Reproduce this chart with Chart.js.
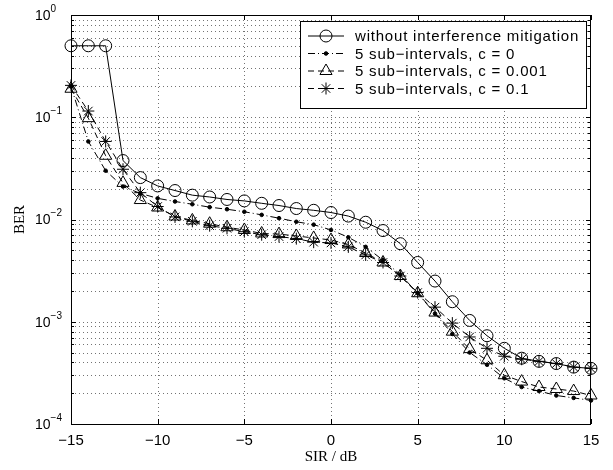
<!DOCTYPE html>
<html><head><meta charset="utf-8">
<script src="https://cdn.jsdelivr.net/npm/chart.js@4/dist/chart.umd.min.js"></script>
<style>html,body{margin:0;padding:0;background:#fff}</style>
</head><body>
<canvas id="c" width="613" height="470"></canvas>
<script>
// ---- data ----
const sir = [-15,-14,-13,-12,-11,-10,-9,-8,-7,-6,-5,-4,-3,-2,-1,0,1,2,3,4,5,6,7,8,9,10,11,12,13,14,15];
const berNoMitigation = [0.5,0.5,0.5,0.0377,0.0257,0.0213,0.0192,0.0173,0.0166,0.0157,0.0152,0.0144,0.0137,0.0128,0.0123,0.0117,0.0108,0.0094,0.0078,0.0058,0.0038,0.0025,0.00157,0.00103,0.00073,0.00055,0.00044,0.00041,0.00039,0.00036,0.00035];
const berC0 = [0.2,0.058,0.030,0.021,0.018,0.0161,0.0150,0.0141,0.0132,0.0126,0.0119,0.0111,0.0103,0.0095,0.0089,0.0079,0.0067,0.0054,0.0040,0.0029,0.0019,0.0012,0.00076,0.0005,0.00038,0.00028,0.00023,0.00021,0.00019,0.00018,0.00017];
const berC0001 = [0.19,0.098,0.042,0.0228,0.0155,0.0131,0.0107,0.0098,0.0091,0.0084,0.0079,0.0073,0.0072,0.0069,0.0066,0.0063,0.0057,0.0047,0.0038,0.0028,0.0019,0.00123,0.0008,0.00054,0.00042,0.0003,0.00026,0.00023,0.00022,0.00021,0.00019];
const berC01 = [0.205,0.115,0.058,0.031,0.0183,0.0134,0.0106,0.0096,0.0087,0.0082,0.0076,0.0071,0.0068,0.0065,0.0060,0.0059,0.0054,0.0045,0.0038,0.0028,0.00193,0.00139,0.00097,0.00071,0.00055,0.00046,0.00043,0.00041,0.00039,0.00036,0.00035];
const seriesLabels = ['without interference mitigation','5 sub\u2212intervals, c = 0','5 sub\u2212intervals, c = 0.001','5 sub\u2212intervals, c = 0.1'];
const xTickValues = [-15,-10,-5,0,5,10,15];
const yDecades = [0,-1,-2,-3,-4];
const xTitle = 'SIR / dB';
const yTitle = 'BER';

const pts = arr => sir.map((s,i)=>({x:s,y:arr[i]}));
const styles = [
  {pointStyle:'circle', pointRadius:6, borderDash:[], fill:'rgba(0,0,0,0)'},
  {pointStyle:'circle', pointRadius:1.8, borderDash:[7,3,1,3], fill:'#000'},
  {pointStyle:'triangle', pointRadius:7, borderDash:[6,4], fill:'rgba(0,0,0,0)'},
  {pointStyle:'star', pointRadius:6, borderDash:[6,4], fill:'rgba(0,0,0,0)'}
];
const seriesData = [berNoMitigation, berC0, berC0001, berC01];
const datasets = seriesData.map((d,i)=>({
  label: seriesLabels[i],
  data: pts(d),
  borderColor:'#000', borderWidth:1, borderDash: styles[i].borderDash,
  pointStyle: styles[i].pointStyle, pointRadius: styles[i].pointRadius,
  pointBorderColor:'#000', pointBackgroundColor: styles[i].fill, pointBorderWidth:1,
  tension:0, clip:false, order: 4-i
}));

const minorY = [];
for (let e=-4; e<0; e++) for (let m=1; m<10; m++) minorY.push(m*Math.pow(10,e));
minorY.push(1);

const gridPlugin = {
  id:'dotgrid',
  beforeDatasetsDraw(chart){
    const {ctx, chartArea:a, scales:{x,y}} = chart;
    ctx.save();
    ctx.strokeStyle='rgba(0,0,0,0.55)'; ctx.lineWidth=1; ctx.setLineDash([1,3]);
    ctx.beginPath();
    xTickValues.forEach(v=>{
      if (v===-15||v===15) return;
      const px = Math.round(x.getPixelForValue(v))+0.5;
      ctx.moveTo(px,a.top); ctx.lineTo(px,a.bottom);
    });
    minorY.forEach(v=>{
      if (v>=1 || v<=1e-4) return;
      const py = Math.round(y.getPixelForValue(v))+0.5;
      ctx.moveTo(a.left,py); ctx.lineTo(a.right,py);
    });
    ctx.stroke();
    ctx.restore();
  }
};

const frame = {
  id:'frame',
  afterDraw(chart){
    const {ctx, chartArea:a, scales:{x,y}} = chart;
    ctx.save();
    ctx.strokeStyle='#000'; ctx.lineWidth=1; ctx.setLineDash([]);
    ctx.beginPath();
    xTickValues.forEach(v=>{
      const px = Math.round(x.getPixelForValue(v))+0.5;
      ctx.moveTo(px,a.bottom); ctx.lineTo(px,a.bottom-5);
      ctx.moveTo(px,a.top); ctx.lineTo(px,a.top+5);
    });
    minorY.forEach(v=>{
      const py = Math.round(y.getPixelForValue(v))+0.5;
      const isMajor = Math.abs(Math.log10(v)-Math.round(Math.log10(v)))<1e-9;
      const L = isMajor?5:3;
      ctx.moveTo(a.left,py); ctx.lineTo(a.left+L,py);
      ctx.moveTo(a.right,py); ctx.lineTo(a.right-L,py);
    });
    ctx.stroke();
    ctx.strokeRect(a.left+0.5, a.top+0.5, a.right-a.left-1, a.bottom-a.top);
    // y tick labels with superscripts
    ctx.fillStyle='#000';
    ctx.textBaseline='middle'; ctx.textAlign='left';
    yDecades.forEach(e=>{
      const py = y.getPixelForValue(Math.pow(10,e));
      ctx.font='14px "Liberation Sans", Arial, sans-serif';
      ctx.fillText('10', 35, py+1);
      const w = ctx.measureText('10').width;
      ctx.font='10px "Liberation Sans", Arial, sans-serif';
      ctx.fillText(e===0?'0':'\u2212'+(-e), 35+w, py-6);
    });
    // legend
    const lx=300.5, ly=21.5, lw=286, lh=87;
    ctx.fillStyle='#fff'; ctx.fillRect(lx,ly,lw,lh);
    ctx.strokeStyle='#000'; ctx.strokeRect(lx,ly,lw,lh);
    const rows=[36,53.5,71,88.5];
    datasets.forEach((ds,i)=>{
      const ry=rows[i];
      ctx.setLineDash(ds.borderDash);
      ctx.beginPath(); ctx.moveTo(308,ry); ctx.lineTo(344,ry); ctx.stroke();
      ctx.setLineDash([]);
      ctx.fillStyle=ds.pointBackgroundColor; ctx.strokeStyle='#000'; ctx.lineWidth=1;
      Chart.helpers.drawPoint(ctx,{pointStyle:ds.pointStyle, radius:ds.pointRadius, rotation:0, borderWidth:1},326,ry);
      ctx.fillStyle='#000';
      ctx.font='15px "Liberation Sans", Arial, sans-serif';
      ctx.letterSpacing='0.8px';
      ctx.textBaseline='middle';
      ctx.fillText(ds.label, 355, ry+1);
      ctx.letterSpacing='0px';
    });
    ctx.restore();
  }
};

new Chart(document.getElementById('c'), {
  type:'line',
  data:{datasets},
  options:{
    responsive:false, animation:false, devicePixelRatio:1,
    layout:{padding:{left:0,right:22,top:15,bottom:0}},
    plugins:{legend:{display:false}, tooltip:{enabled:false}},
    scales:{
      x:{type:'linear', min:-15, max:15,
        afterBuildTicks: s=>{ s.ticks = xTickValues.map(v=>({value:v})); },
        afterFit: s=>{ s.height=46; },
        ticks:{autoSkip:false, maxRotation:0, padding:8, color:'#000',
          font:{family:'"Liberation Sans", Arial, sans-serif', size:15},
          callback:v=> v<0 ? '\u2212'+Math.abs(v) : String(v)},
        grid:{display:false, drawTicks:false},
        border:{display:false},
        title:{display:true, text:xTitle, color:'#000', padding:{top:0,bottom:4},
          font:{family:'"Liberation Serif", "Times New Roman", serif', size:15}}
      },
      y:{type:'logarithmic', min:1e-4, max:1,
        afterBuildTicks: s=>{ s.ticks = minorY.map(v=>({value:v})); },
        afterFit: s=>{ s.width=71; },
        ticks:{display:false},
        grid:{display:false, drawTicks:false},
        border:{display:false},
        title:{display:true, text:yTitle, color:'#000', padding:{top:11,bottom:0},
          font:{family:'"Liberation Serif", "Times New Roman", serif', size:15}}
      }
    }
  },
  plugins:[gridPlugin, frame]
});
</script>
</body></html>
